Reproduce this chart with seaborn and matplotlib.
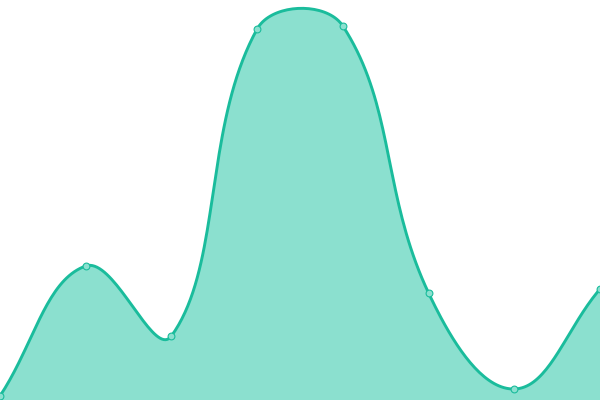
import numpy as np
import pandas as pd
import matplotlib
matplotlib.use("Agg")
import matplotlib.pyplot as plt
import seaborn as sns

# data
labels = ["A", "B", "C", "D", "E", "F", "G", "H"]
values = [4, 134, 64, 371, 374, 107, 11, 111]

line_color = "#1abc9c"
fill_color = "#8be0cf"

W, H = 600, 400
y_max = 400


def spline_curve(xs, ys, tension=0.4, steps=40):
    # Chart.js-style cubic bezier smoothing, done in pixel space
    sx = W / (len(xs) - 1)
    sy = H / y_max
    px = np.array(xs, dtype=float) * sx
    py = np.array(ys, dtype=float) * sy
    n = len(px)
    c_prev = np.zeros((n, 2))
    c_next = np.zeros((n, 2))
    for i in range(n):
        p0 = np.array([px[max(i - 1, 0)], py[max(i - 1, 0)]])
        p1 = np.array([px[i], py[i]])
        p2 = np.array([px[min(i + 1, n - 1)], py[min(i + 1, n - 1)]])
        d01 = np.hypot(*(p1 - p0))
        d12 = np.hypot(*(p2 - p1))
        s01 = d01 / (d01 + d12) if d01 + d12 else 0
        s12 = d12 / (d01 + d12) if d01 + d12 else 0
        c_prev[i] = p1 - tension * s01 * (p2 - p0)
        c_next[i] = p1 + tension * s12 * (p2 - p0)
    out = []
    t = np.linspace(0, 1, steps)[:, None]
    for i in range(n - 1):
        a = np.array([px[i], py[i]])
        b = c_next[i]
        c = c_prev[i + 1]
        d = np.array([px[i + 1], py[i + 1]])
        seg = (1 - t) ** 3 * a + 3 * (1 - t) ** 2 * t * b + 3 * (1 - t) * t ** 2 * c + t ** 3 * d
        out.append(seg if i == 0 else seg[1:])
    pts = np.vstack(out)
    return pts[:, 0] / sx, pts[:, 1] / sy


idx = np.arange(len(labels))
cx, cy = spline_curve(idx, values)
curve = pd.DataFrame({"x": cx, "y": cy})
points = pd.DataFrame({"x": idx, "y": values})

sns.set_style("white")
fig = plt.figure(figsize=(6, 4), dpi=100)
ax = fig.add_axes([0, 0, 1, 1])

ax.fill_between(curve["x"], 0, curve["y"], color=fill_color, linewidth=0)
sns.lineplot(data=curve, x="x", y="y", ax=ax, color=line_color, linewidth=2.1,
             sort=False, estimator=None)
sns.scatterplot(data=points, x="x", y="y", ax=ax, color=fill_color,
                edgecolor=line_color, linewidth=0.8, s=24, zorder=5)

ax.set_xlim(0, len(labels) - 1)
ax.set_ylim(0, y_max)
ax.axis("off")

fig.savefig("out.png", dpi=100)
